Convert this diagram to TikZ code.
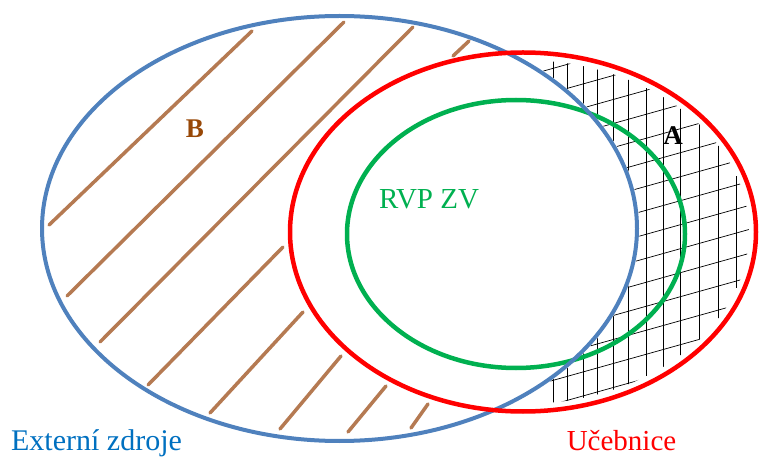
\documentclass[tikz,border=0pt]{standalone}
\usepackage{fontspec}
\setmainfont{Liberation Serif}
\definecolor{vblue}{RGB}{79,129,189}
\definecolor{vred}{RGB}{255,0,0}
\definecolor{vgreen}{RGB}{0,176,80}
\definecolor{hatchbrown}{RGB}{181,122,82}
\definecolor{labelbrown}{RGB}{152,72,7}
\definecolor{textblue}{RGB}{0,112,192}
\begin{document}
\begin{tikzpicture}[x=1pt,y=-1pt,
  hatch/.style={draw=hatchbrown,line width=3.5pt,line cap=round},
  gridline/.style={draw=black,line width=0.7pt},
  setline/.style={line width=#1},
  lbl/.style={inner sep=0pt,anchor=base,font=\fontsize{29}{32}\selectfont},
  letter/.style={inner sep=0pt,anchor=base,font=\fontsize{27}{30}\selectfont\bfseries}]
\useasboundingbox (0,0) rectangle (761,457);
% grid in red minus blue
\begin{scope}
  \clip (523,232) ellipse [x radius=226pt, y radius=172pt];
  \begin{scope}[even odd rule]
  \clip (339.5,228.5) ellipse [x radius=300pt, y radius=215pt] (0,0) rectangle (761,457);
  \foreach \gx in {553,567,583,597,613,628,646,663,680,699,718,736,750}
    \draw[gridline] (\gx,30) -- (\gx,430);
  \foreach \gc in {20,44,68,92,116,140,164,188,212,236,260,284,308,332,356,380,404,428}
    \draw[gridline] (530,{\gc+0.28*110}) -- (770,{\gc-0.28*130});
  \end{scope}
\end{scope}
% brown hatching
\coordinate (h1a) at (49,225);  \coordinate (h1b) at (252,31);
\coordinate (h2a) at (67,296);  \coordinate (h2b) at (344,22);
\coordinate (h3a) at (100,342); \coordinate (h3b) at (413,27);
\coordinate (h4a) at (453,56);  \coordinate (h4b) at (469,41);
\coordinate (h5a) at (148,385); \coordinate (h5b) at (283,247);
\coordinate (h6a) at (210,413); \coordinate (h6b) at (303,312);
\coordinate (h7a) at (280,429); \coordinate (h7b) at (341,356);
\coordinate (h8a) at (348,432); \coordinate (h8b) at (386,386);
\coordinate (h9a) at (411,428); \coordinate (h9b) at (428,404);
\foreach \i in {1,...,9} \draw[hatch] (h\i a) -- (h\i b);
% ellipses
\draw[vgreen,setline=4.5pt] (516,234) ellipse [x radius=169pt, y radius=134pt];
\draw[vblue,setline=4pt] (339.5,228.5) ellipse [x radius=297.5pt, y radius=212.5pt];
\draw[vred,setline=4.5pt] (523,232) ellipse [x radius=233pt, y radius=179.5pt];
% labels
\node[letter,text=labelbrown] (lb) at (195,138) {B};
\node[letter,text=black] (la) at (673,145) {A};
\node[lbl,text=vgreen] (rvp) at (429,209) {RVP ZV};
\node[lbl,text=textblue,font=\fontsize{30}{32}\selectfont] (ext) at (96.5,450) {Externí zdroje};
\node[lbl,text=vred] (uc) at (621.5,450) {Učebnice};
\end{tikzpicture}
\end{document}
